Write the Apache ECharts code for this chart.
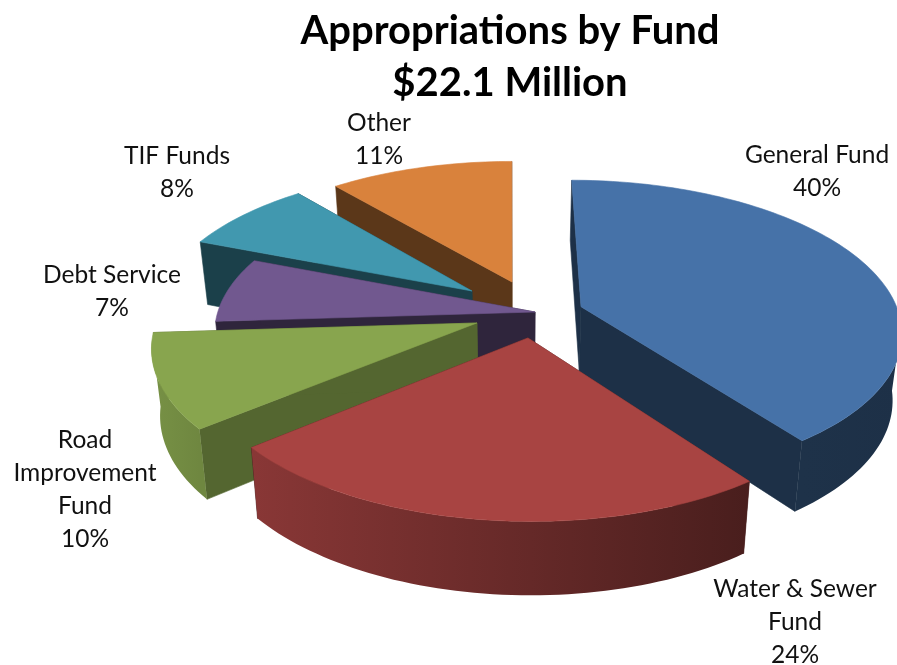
<!DOCTYPE html>
<html>
<head>
<meta charset="utf-8">
<style>html,body{margin:0;padding:0;background:#fff}#chart{width:897px;height:665px}</style>
<script src="https://cdn.jsdelivr.net/npm/echarts@6/dist/echarts.min.js"></script>
</head>
<body>
<div id="chart"></div>
<script>
// Fund shares of total appropriations, in percent
const funds = ['General Fund', 'Water & Sewer\nFund', 'Road\nImprovement\nFund', 'Debt Service', 'TIF Funds', 'Other'];
const shares = [40, 24, 10, 7, 8, 11];
const titleLines = ['Appropriations by Fund', '$22.1 Million'];

// Slice styling
const topColors = ['#4672a8', '#a84442', '#88a54e', '#71588f', '#4198af', '#d9823c'];
const radialWallShade = [0.42, 0.42, 0.62, 0.42, 0.42, 0.42];

// Slices furthest from the viewer are painted first
const paintOrder = [0, 5, 4, 3, 2, 1];

// How far each slice is pulled out of the pie, in pie radii on the ground plane
const pullX = [0.225, 0.055, -0.103, 0.079, -0.1225, 0.0065];
const pullY = [-0.012, -0.2196, -0.1216, -0.048, 0.098, 0.1627];

// Label anchors (centre x, centre y of the text block)
const labelX = [817, 795, 85, 112, 177, 379];
const labelY = [172, 622, 490, 292, 173, 140];

// Camera used to flatten the pie onto the page
const view = { cx: 510, cy: 305, sx: 315, sy: 145, persp: 0.15, baseShrink: 0.976, depth0: 61, depthSlope: 0.04 };

const total = shares.reduce((a, b) => a + b, 0);
const spans = [];
shares.reduce((start, v) => {
  const end = start + v / total * Math.PI * 2;
  spans.push([start, end]);
  return end;
}, 0);

function project(X, Y) {
  const w = 1 + view.persp * Y;
  return [view.cx + view.sx * X / w, view.cy - view.sy * Y / w];
}
function lower(p) {
  return [view.cx + (p[0] - view.cx) * view.baseShrink, p[1] + view.depth0 + view.depthSlope * (p[1] - 200)];
}
function shade(hex, f) {
  const n = parseInt(hex.slice(1), 16);
  const c = [(n >> 16) & 255, (n >> 8) & 255, n & 255].map(v => Math.round(v * f));
  return 'rgb(' + c.join(',') + ')';
}
function poly(points, fill) {
  return { type: 'polygon', shape: { points }, style: { fill, stroke: fill, lineWidth: 0.6 } };
}
// Brightness of the outer rim falls off from left to right, with a floor on the dark side
function rimShade(unitX) {
  return Math.max(0.42, 0.6 - 0.28 * unitX);
}

function renderSlice(params, api) {
  const i = api.value(0);
  const [a0, a1] = spans[i];
  const sx = pullX[i], sy = pullY[i];
  const color = topColors[i];
  const steps = Math.max(8, Math.round((a1 - a0) * 40));
  const arc = [], front = [], frontX = [];
  for (let k = 0; k <= steps; k++) {
    const t = a0 + (a1 - a0) * k / steps;
    const p = project(sx + Math.sin(t), sy + Math.cos(t));
    arc.push(p);
    // Only the part of the rim turned towards the viewer is visible
    if (Math.cos(t) <= -0.1) {
      front.push(p);
      frontX.push(Math.sin(t));
    }
  }
  const apex = project(sx, sy);
  const wall = shade(color, radialWallShade[i]);
  const children = [
    poly([apex, arc[0], lower(arc[0]), lower(apex)], wall),
    poly([apex, arc[steps], lower(arc[steps]), lower(apex)], wall)
  ];
  if (front.length > 1) {
    const outline = front.concat(front.map(lower).reverse());
    const xs = front.map(p => p[0]);
    const fill = new echarts.graphic.LinearGradient(Math.min(...xs), 0, Math.max(...xs), 0, [
      { offset: 0, color: shade(color, rimShade(Math.min(...frontX))) },
      { offset: 1, color: shade(color, rimShade(Math.max(...frontX))) }
    ], true);
    children.push({ type: 'polygon', shape: { points: outline }, style: { fill } });
  }
  children.push(poly([apex].concat(arc), color));
  return { type: 'group', children };
}

function renderLabel(params, api) {
  const i = api.value(0);
  return {
    type: 'text',
    x: labelX[i],
    y: labelY[i],
    style: {
      text: funds[i] + '\n' + shares[i] + '%',
      fill: '#111',
      font: '24.5px Lato',
      lineHeight: 33,
      align: 'center',
      verticalAlign: 'middle'
    }
  };
}

const chart = echarts.init(document.getElementById('chart'), null, { renderer: 'canvas' });
chart.setOption({
  animation: false,
  backgroundColor: '#fff',
  title: {
    text: titleLines.join('\n'),
    left: 505,
    top: 0,
    textAlign: 'center',
    textStyle: { fontFamily: 'Lato', fontWeight: 'bold', fontSize: 40, lineHeight: 52, color: '#000' }
  },
  series: [
    { type: 'custom', coordinateSystem: 'none', renderItem: renderSlice, data: paintOrder.map(i => [i]), silent: true, z: 2 },
    { type: 'custom', coordinateSystem: 'none', renderItem: renderLabel, data: shares.map((v, i) => [i, v]), silent: true, z: 3 }
  ]
});
</script>
</body>
</html>
